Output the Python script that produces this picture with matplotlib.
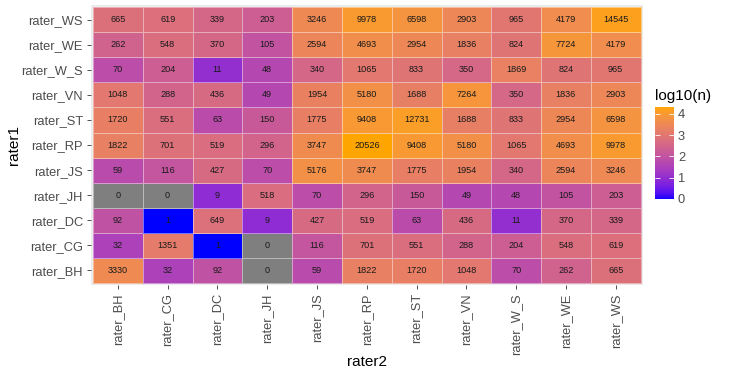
import numpy as np
import matplotlib
matplotlib.use('Agg')
import matplotlib.pyplot as plt
from matplotlib.colors import ListedColormap, Normalize

plt.rcParams['font.family'] = ['Liberation Sans', 'DejaVu Sans']

raters = ['rater_BH', 'rater_CG', 'rater_DC', 'rater_JH', 'rater_JS', 'rater_RP',
          'rater_ST', 'rater_VN', 'rater_W_S', 'rater_WE', 'rater_WS']

# rows = rater1 (bottom to top), columns = rater2
row_BH = [3330, 32, 92, 0, 59, 1822, 1720, 1048, 70, 262, 665]
row_CG = [32, 1351, 1, 0, 116, 701, 551, 288, 204, 548, 619]
row_DC = [92, 1, 649, 9, 427, 519, 63, 436, 11, 370, 339]
row_JH = [0, 0, 9, 518, 70, 296, 150, 49, 48, 105, 203]
row_JS = [59, 116, 427, 70, 5176, 3747, 1775, 1954, 340, 2594, 3246]
row_RP = [1822, 701, 519, 296, 3747, 20526, 9408, 5180, 1065, 4693, 9978]
row_ST = [1720, 551, 63, 150, 1775, 9408, 12731, 1688, 833, 2954, 6598]
row_VN = [1048, 288, 436, 49, 1954, 5180, 1688, 7264, 350, 1836, 2903]
row_W_S = [70, 204, 11, 48, 340, 1065, 833, 350, 1869, 824, 965]
row_WE = [262, 548, 370, 105, 2594, 4693, 2954, 1836, 824, 7724, 4179]
row_WS = [665, 619, 339, 203, 3246, 9978, 6598, 2903, 965, 4179, 14545]

counts = np.array([row_BH, row_CG, row_DC, row_JH, row_JS, row_RP,
                   row_ST, row_VN, row_W_S, row_WE, row_WS], dtype=float)


# blue -> orange gradient interpolated in Lab space (like ggplot)
def srgb_to_lab(rgb):
    c = np.asarray(rgb, dtype=float)
    lin = np.where(c <= 0.04045, c / 12.92, ((c + 0.055) / 1.055) ** 2.4)
    m = np.array([[0.4124, 0.3576, 0.1805],
                  [0.2126, 0.7152, 0.0722],
                  [0.0193, 0.1192, 0.9505]])
    xyz = m @ lin / np.array([0.95047, 1.0, 1.08883])
    f = np.where(xyz > 0.008856, np.cbrt(xyz), 7.787 * xyz + 16 / 116)
    return np.array([116 * f[1] - 16, 500 * (f[0] - f[1]), 200 * (f[1] - f[2])])


def lab_to_srgb(lab):
    L, a, b = lab
    fy = (L + 16) / 116
    fx = fy + a / 500
    fz = fy - b / 200
    f = np.array([fx, fy, fz])
    xyz = np.where(f ** 3 > 0.008856, f ** 3, (f - 16 / 116) / 7.787)
    xyz = xyz * np.array([0.95047, 1.0, 1.08883])
    m = np.array([[3.2406, -1.5372, -0.4986],
                  [-0.9689, 1.8758, 0.0415],
                  [0.0557, -0.2040, 1.0570]])
    lin = m @ xyz
    lin = np.clip(lin, 0, 1)
    c = np.where(lin <= 0.0031308, 12.92 * lin, 1.055 * lin ** (1 / 2.4) - 0.055)
    return np.clip(c, 0, 1)


lab_lo = srgb_to_lab([0, 0, 1])
lab_hi = srgb_to_lab([1, 165 / 255, 0])
cols = [lab_to_srgb(lab_lo + t * (lab_hi - lab_lo)) for t in np.linspace(0, 1, 256)]
cmap = ListedColormap(cols)
cmap.set_bad('#7F7F7F')

with np.errstate(divide='ignore'):
    logn = np.log10(counts)
logn = np.ma.masked_invalid(logn)
norm = Normalize(vmin=0, vmax=np.log10(counts.max()))

fig = plt.figure(figsize=(7.3, 3.73), dpi=100)
ax = fig.add_axes([0.124, 0.2346, 0.757, 0.753])
ax.set_facecolor('#EBEBEB')

n = len(raters)
edges = np.arange(n + 1) - 0.5
mesh = ax.pcolormesh(edges, edges, logn, cmap=cmap, norm=norm,
                     edgecolors=(1, 1, 1, 0.45), linewidth=0.5)

for i in range(n):
    for j in range(n):
        ax.text(j, i, str(int(counts[i, j])), ha='center', va='center',
                fontsize=6.6, color='#1a1a1a')

ax.set_xlim(-0.55, n - 0.45)
ax.set_ylim(-0.6, n - 0.4)
ax.set_xticks(range(n))
ax.set_yticks(range(n))
ax.set_xticklabels(raters, rotation=90, va='top', ha='center')
ax.set_yticklabels(raters)
ax.tick_params(axis='both', labelsize=9.3, labelcolor='#4D4D4D', color='#333333',
               length=3, width=0.6, pad=2.5)
for s in ax.spines.values():
    s.set_visible(False)

fig.text(367 / 730, 1 - 362 / 373, 'rater2', fontsize=11, ha='center', va='center')
fig.text(14 / 730, 1 - 145 / 373, 'rater1', fontsize=11, ha='center', va='center',
         rotation=90)

cax = fig.add_axes([0.897, 0.4665, 0.026, 0.2466])
cb = fig.colorbar(mesh, cax=cax)
cb.outline.set_visible(False)
cb.set_ticks([0, 1, 2, 3, 4])
cax.tick_params(axis='y', direction='in', color='white', length=3.5, width=0.6,
                left=True, right=True, labelsize=9.3, labelcolor='#4D4D4D', pad=3)
fig.text(0.897, 1 - 96 / 373, 'log10(n)', fontsize=11, ha='left', va='center')

fig.savefig('out.png', dpi=100)
